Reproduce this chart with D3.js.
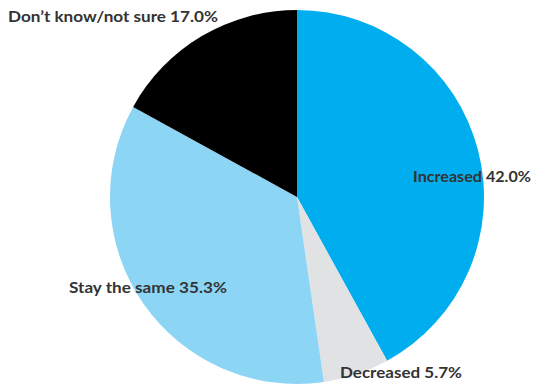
<!DOCTYPE html>
<html><head><meta charset="utf-8">
<script src="https://cdn.jsdelivr.net/npm/d3@7"></script>
<style>html,body{margin:0;padding:0;background:#fff;}svg{display:block;}</style>
</head><body>
<svg id="chart" width="539" height="385"></svg>
<script>
const categories = ["Increased", "Decreased", "Stay the same", "Don\u2019t know/not sure"];
const values = [42.0, 5.7, 35.3, 17.0];
const labels = ["Increased 42.0%", "Decreased 5.7%", "Stay the same 35.3%", "Don\u2019t know/not sure 17.0%"];
const colors = ["#00aeef", "#e1e2e4", "#8dd5f5", "#000000"];

const svg = d3.select("#chart");
const cx = 297, cy = 197, r = 187;
const g = svg.append("g").attr("transform", `translate(${cx},${cy})`);
const pie = d3.pie().sort(null).value(d => d)(values);
const arc = d3.arc().innerRadius(0).outerRadius(r);
g.selectAll("path").data(pie).join("path")
  .attr("d", arc).attr("fill", (d, i) => colors[i]);

// label anchor positions (layout)
const labelPos = [[413, 182], [340, 378], [69, 293], [8, 22]];
const labelW = [118, 122, 158, 210];
svg.selectAll("text.lbl").data(labels).join("text")
  .attr("class", "lbl")
  .attr("x", (d, i) => labelPos[i][0])
  .attr("y", (d, i) => labelPos[i][1])
  .attr("textLength", (d, i) => labelW[i])
  .attr("lengthAdjust", "spacingAndGlyphs")
  .attr("font-family", "Lato, 'Open Sans', sans-serif")
  .attr("font-weight", "bold")
  .attr("font-size", 15)
  .attr("fill", "#333333")
  .text(d => d);
</script>
</body></html>
